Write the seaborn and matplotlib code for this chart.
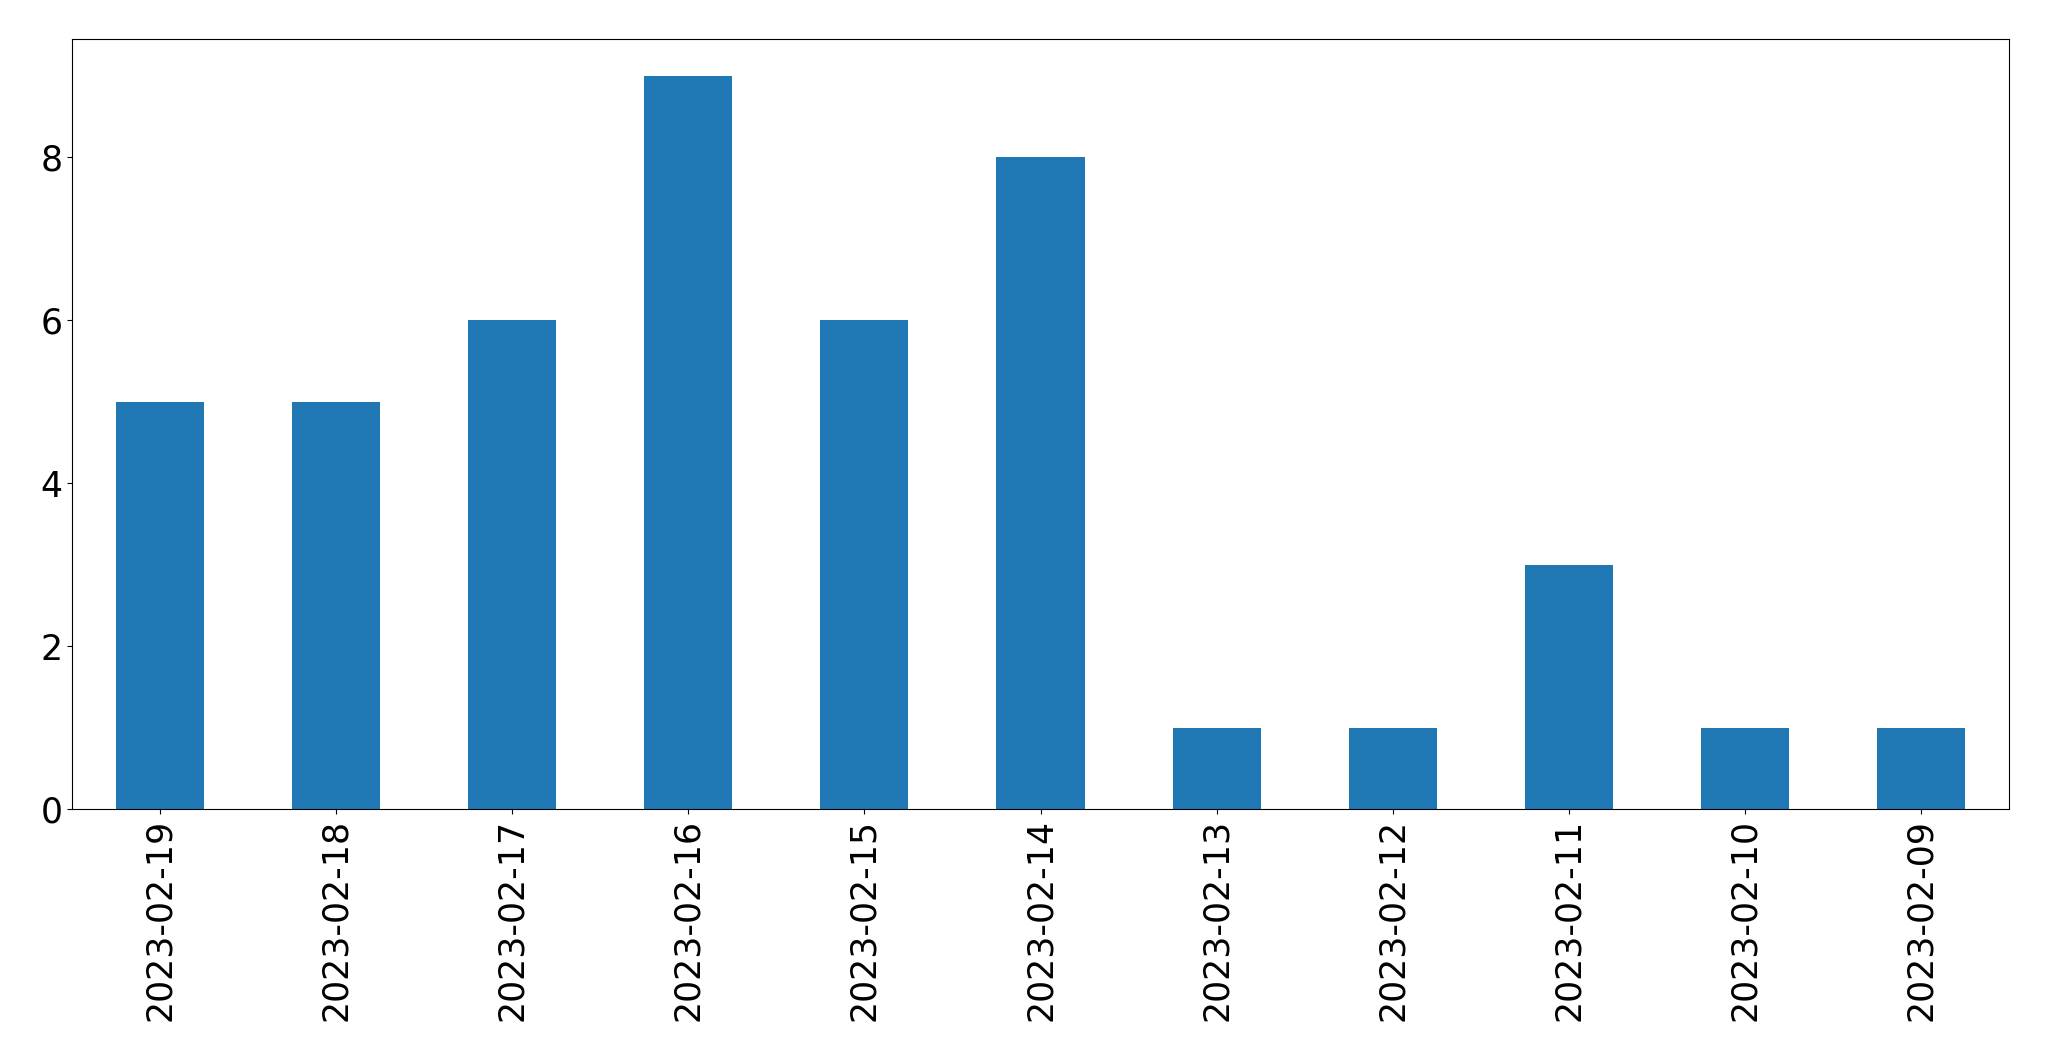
import matplotlib
matplotlib.use("Agg")
import matplotlib.pyplot as plt
import seaborn as sns
import pandas as pd

dates = ["2023-02-19", "2023-02-18", "2023-02-17", "2023-02-16", "2023-02-15",
         "2023-02-14", "2023-02-13", "2023-02-12", "2023-02-11", "2023-02-10",
         "2023-02-09"]
counts = [5, 5, 6, 9, 6, 8, 1, 1, 3, 1, 1]

df = pd.DataFrame({"date": dates, "count": counts})

fig = plt.figure(figsize=(20.49, 10.61), dpi=100)
ax = fig.add_axes([72/2049, 1 - 809/1061, (2009 - 72)/2049, (809 - 39)/1061])
sns.barplot(data=df, x="date", y="count", order=dates, color="#1f77b4",
            saturation=1, width=0.5, ax=ax)
ax.set_xlabel("")
ax.set_ylabel("")
ax.set_xlim(-0.5, len(dates) - 0.5)
ax.set_ylim(0, 9 * 1.05)
ax.set_yticks([0, 2, 4, 6, 8])
ax.tick_params(axis="both", labelsize=25)
plt.setp(ax.get_xticklabels(), rotation=90)
fig.savefig("out.png", dpi=100)
